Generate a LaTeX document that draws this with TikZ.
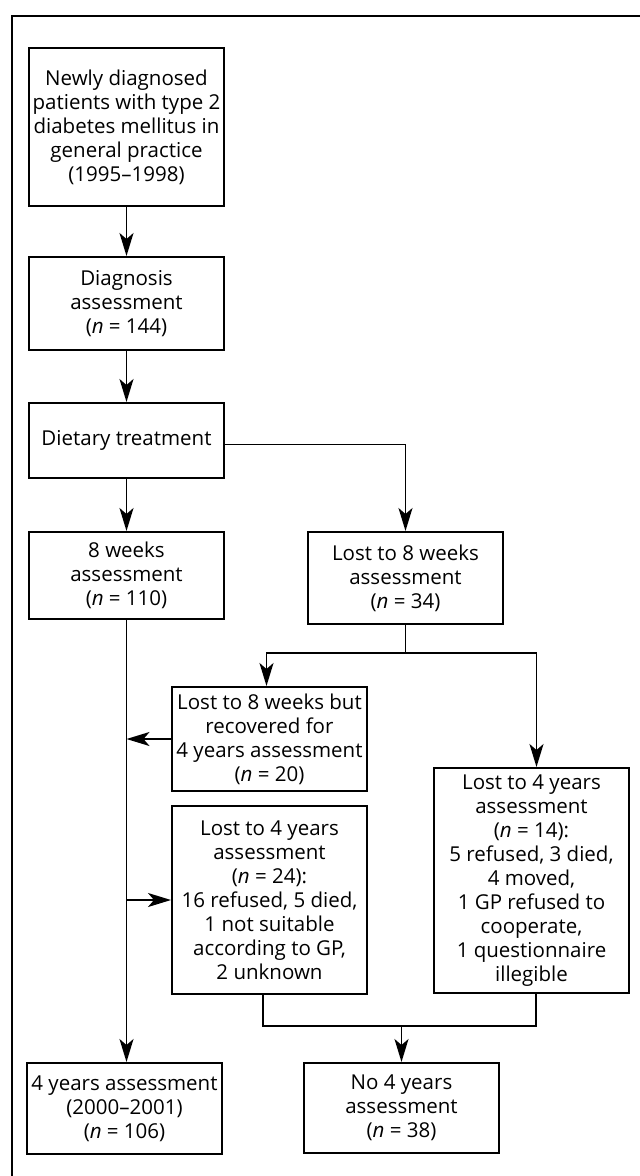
\documentclass[tikz,border=0pt]{standalone}
\usepackage{fontspec}
\setmainfont{Open Sans}
\usetikzlibrary{arrows.meta}
\begin{document}
\begin{tikzpicture}[x=1pt,y=-1pt,
  box/.style={draw, line width=2pt, inner sep=0pt, align=center,
    minimum width=195pt, font=\fontsize{20.5}{24}\selectfont},
  conn/.style={line width=1.7pt},
  arr/.style={conn, -{Stealth[length=23pt,width=14pt,inset=6pt]}}]
\useasboundingbox (0,0) rectangle (640,1176);
\draw[line width=2.6pt] (660,16) -- (12,16) -- (12,1200);
\node[box, minimum height=158pt] (b1) at (126.5,127) {Newly diagnosed\\patients with type 2\\diabetes mellitus in\\general practice\\(1995--1998)};
\node[box, minimum height=93pt] (b2) at (126.5,303.5) {Diagnosis\\assessment\\(\textit{n} = 144)};
\node[box, minimum height=75pt] (diet) at (126.5,440.5) {Dietary treatment};
\node[box, minimum height=87pt] (w8) at (126.5,575.5) {8 weeks\\assessment\\(\textit{n} = 110)};
\node[box, minimum height=92pt] (lost8) at (405.5,578) {Lost to 8 weeks\\assessment\\(\textit{n} = 34)};
\node[box, minimum height=104pt] (rec) at (269.5,739) {Lost to 8 weeks but\\recovered for\\4 years assessment\\(\textit{n} = 20)};
\node[box, minimum height=188pt] (l24) at (269.5,900) {Lost to 4 years\\assessment\\(\textit{n} = 24):\\16 refused, 5 died,\\1 not suitable\\according to GP,\\2 unknown};
\node[box, minimum height=225pt] (l14) at (531.5,880.5) {Lost to 4 years\\assessment\\(\textit{n} = 14):\\5 refused, 3 died,\\4 moved,\\1 GP refused to\\cooperate,\\1 questionnaire\\illegible};
\node[box, minimum height=91pt] (y4) at (124.5,1108.5) {4 years assessment\\(2000--2001)\\(\textit{n} = 106)};
\node[box, minimum height=90pt] (no4) at (401.5,1108) {No 4 years\\assessment\\(\textit{n} = 38)};
\coordinate (split) at (405.5,653);
\coordinate (merge) at (400,1026);
\draw[arr] (b1.south) -- (b2.north);
\draw[arr] (b2.south) -- (diet.north);
\draw[arr] (diet.south) -- (w8.north);
\draw[arr] ([yshift=-4pt]diet.east) -| (lost8.north);
\draw[arr] (w8.south) -- (w8.south |- y4.north);
\draw[conn] (lost8.south) -- (split);
\draw[arr] (split) -| ([xshift=-3pt]rec.north);
\draw[arr] (split) -| ([xshift=5pt]l14.north);
\draw[arr] (rec.west) -- (rec.west -| w8.south);
\draw[arr] (l24.west -| w8.south) -- (l24.west);
\draw[conn] ([xshift=-6.5pt]l24.south) |- ([xshift=4.5pt]l14.south |- merge) -- ([xshift=4.5pt]l14.south);
\draw[arr] (no4.north |- merge) -- (no4.north);
\end{tikzpicture}
\end{document}
